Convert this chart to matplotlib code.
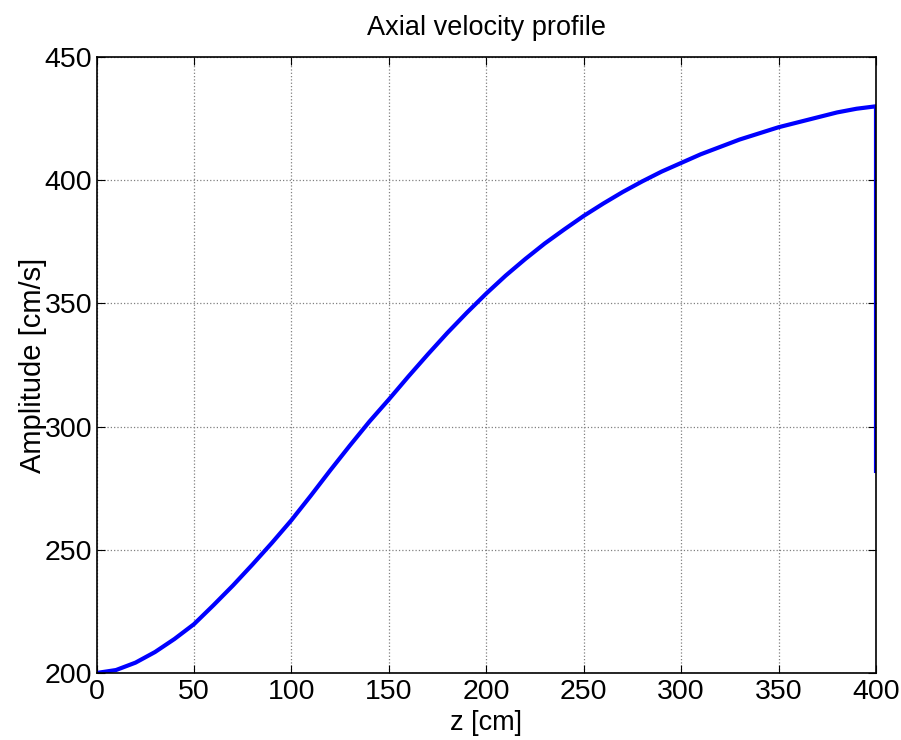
import matplotlib
matplotlib.use("Agg")
import matplotlib.pyplot as plt

plt.rcParams['font.family'] = ['Liberation Sans', 'DejaVu Sans']

z_cm = [0, 10, 20, 30, 40, 50, 60, 70, 80, 90, 100, 110, 120, 130, 140, 150,
        160, 170, 180, 190, 200, 210, 220, 230, 240, 250, 260, 270, 280, 290,
        300, 310, 320, 330, 340, 350, 360, 370, 380, 390, 400, 400]
amplitude = [200, 201.2, 204.2, 208.5, 213.8, 219.8, 227.5, 235.5, 244, 252.8,
             262, 272, 282.3, 292.3, 302, 311, 320.3, 329.3, 338, 346.2, 354,
             361.3, 368, 374.3, 380, 385.5, 390.5, 395.2, 399.5, 403.5, 407,
             410.5, 413.5, 416.5, 419, 421.5, 423.5, 425.5, 427.5, 429, 430, 282]

xticks = [0, 50, 100, 150, 200, 250, 300, 350, 400]
yticks = [200, 250, 300, 350, 400, 450]

fig = plt.figure(figsize=(9.01, 7.40), dpi=100)
ax = fig.add_axes([96.5/901, 67/740, (876-96.5)/901, (673-57)/740])

ax.plot(z_cm, amplitude, color='#0000ff', linewidth=3.0, solid_joinstyle='round')

ax.set_xlim(0, 400)
ax.set_ylim(200, 450)
ax.set_xticks(xticks)
ax.set_yticks(yticks)
ax.grid(True, color='#808080', linestyle=':', linewidth=0.9)
ax.tick_params(direction='in', length=6, width=0.8, top=True, right=True,
               labelsize=20.5)
ax.tick_params(axis='x', pad=4)
ax.tick_params(axis='y', pad=3)
for s in ax.spines.values():
    s.set_linewidth(1.2)
    s.set_color('black')

ax.set_title('Axial velocity profile', fontsize=19.5, pad=16)
ax.set_xlabel('z [cm]', fontsize=19.5, labelpad=4)
ax.set_ylabel('Amplitude [cm/s]', fontsize=21, labelpad=-2)

fig.savefig('out.png', dpi=100)
